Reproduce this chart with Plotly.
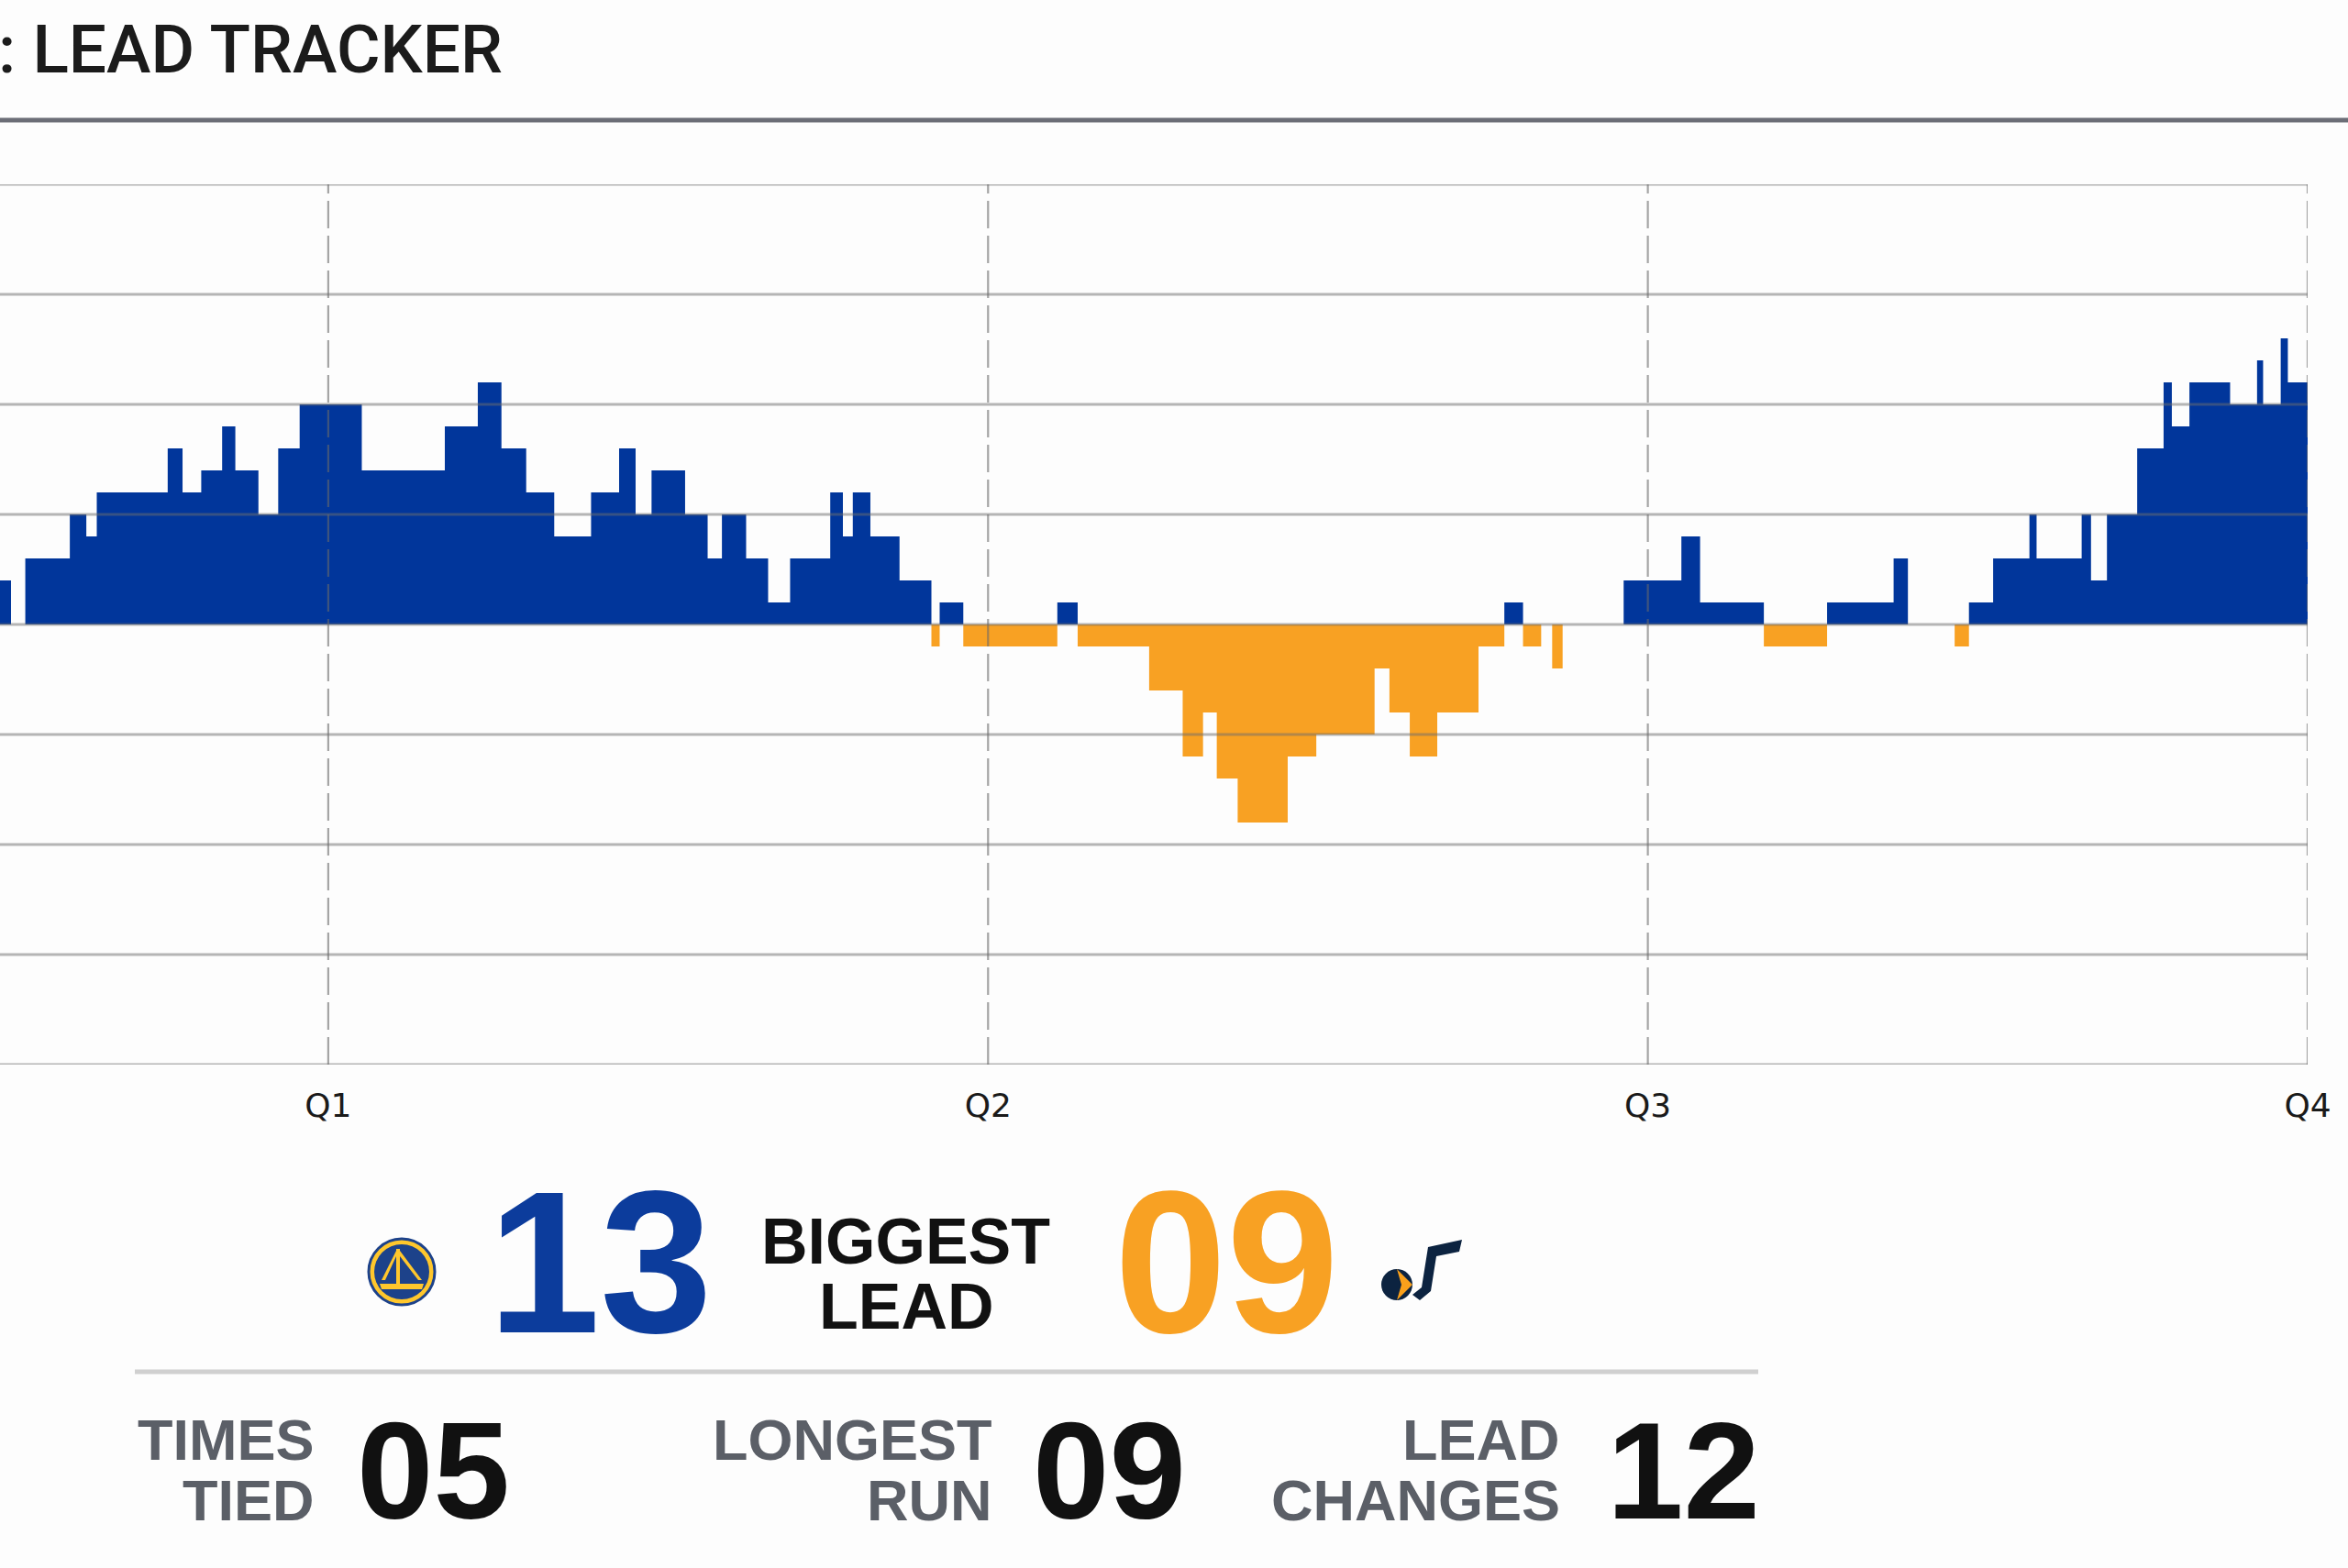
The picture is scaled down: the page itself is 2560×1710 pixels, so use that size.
import plotly.graph_objects as go

# lead of GSW over UTA (positive = GSW ahead), step segments by game minute
SEG_START = [5.80, 6.23, 6.49, 7.30, 7.60, 7.79, 9.08, 9.35, 9.69, 10.07,
             10.31, 10.73, 11.09, 11.48, 12.61, 14.12, 14.72, 15.15, 15.60, 16.11,
             16.78, 17.29, 17.59, 17.88, 18.49, 18.90, 19.16, 19.60, 20.00, 20.40,
             21.13, 21.36, 21.54, 21.86, 22.39, 22.97, 23.12, 23.55, 25.26, 25.63,
             26.93, 27.54, 27.91, 28.16, 28.54, 29.45, 29.97, 31.03, 31.30, 31.67,
             32.17, 32.92, 33.39, 33.73, 34.06, 34.26, 34.45, 35.56, 36.61, 36.95,
             38.11, 39.26, 40.47, 40.73, 41.58, 41.84, 42.28, 42.94, 43.07, 43.89,
             44.06, 44.35, 44.90, 45.38, 45.53, 45.85, 46.59, 47.08, 47.19, 47.51,
             47.64]
LEAD = [2, 0, 3, 5, 4, 6, 8, 6, 7, 9,
        7, 5, 8, 10, 7, 9, 11, 8, 6, 4,
        6, 8, 5, 7, 5, 3, 5, 3, 1, 3,
        6, 4, 6, 4, 2, -1, 1, -1, 1, -1,
        -3, -6, -4, -7, -9, -6, -5, -2, -4, -6,
        -4, -1, 1, -1, 0, -2, 0, 2, 4, 1,
        -1, 1, 3, 0, -1, 1, 3, 5, 3, 5,
        2, 5, 8, 11, 9, 11, 10, 12, 10, 13,
        11]
GAME_END = 48

Q_TICKS = [12, 24, 36, 48]
Q_LABELS = ["Q1", "Q2", "Q3", "Q4"]
Y_GRID = [-20, -15, -10, -5, 0, 5, 10, 15, 20]

TIMES_TIED = 5
LONGEST_RUN = 9
LEAD_CHANGES = 12

BLUE = "#01369b"
ORANGE = "#f8a123"
ARIAL = "Liberation Sans, Arial, sans-serif"

W, H = 2560, 1710
L, R, T, B = 0, 44, 201, 549
PW, PH = W - L - R, H - T - B


def px(x):
    return (x - L) / PW


def py(y):
    return (H - B - y) / PH


xs = SEG_START + [GAME_END]
pos = [max(v, 0) for v in LEAD]
neg = [min(v, 0) for v in LEAD]

fig = go.Figure()
fig.add_trace(go.Scatter(x=xs, y=pos + [pos[-1]], mode="lines", fill="tozeroy",
                         fillcolor=BLUE, line=dict(width=0, shape="hv", color=BLUE),
                         hoverinfo="skip"))
fig.add_trace(go.Scatter(x=xs, y=neg + [neg[-1]], mode="lines", fill="tozeroy",
                         fillcolor=ORANGE, line=dict(width=0, shape="hv", color=ORANGE),
                         hoverinfo="skip"))

# grid drawn above the fills, semi transparent like the original
for v in Y_GRID:
    fig.add_shape(type="line", xref="paper", yref="y", x0=0, x1=1, y0=v, y1=v,
                  line=dict(color="rgba(110,110,110,0.5)", width=3), layer="above")
for q in Q_TICKS:
    fig.add_shape(type="line", xref="x", yref="paper", x0=q, x1=q, y0=0, y1=1,
                  line=dict(color="rgba(105,105,105,0.6)", width=2.2, dash="30px,8px"),
                  layer="above")

# header rule
fig.add_shape(type="line", xref="paper", yref="paper", x0=px(0), x1=px(W),
              y0=py(131), y1=py(131), line=dict(color="#6c6e77", width=5))
# separator under biggest lead
fig.add_shape(type="line", xref="paper", yref="paper", x0=px(147), x1=px(1917),
              y0=py(1496), y1=py(1496), line=dict(color="#d0d0d0", width=5))


def circle(cx, cy, r, fill, line_color=None, lw=0):
    fig.add_shape(type="circle", xref="paper", yref="paper",
                  x0=px(cx - r), x1=px(cx + r), y0=py(cy + r), y1=py(cy - r),
                  fillcolor=fill, line=dict(color=line_color or fill, width=lw))


def path(points, fill):
    d = "M " + " L ".join(f"{px(a):.5f},{py(b):.5f}" for a, b in points) + " Z"
    fig.add_shape(type="path", xref="paper", yref="paper", path=d,
                  fillcolor=fill, line=dict(width=0))


# GSW logo (simplified)
circle(438, 1387, 36, "#ffc72c", "#1d428a", 3)
circle(438, 1387, 30, "#1d428a")
path([(414, 1400), (462, 1400), (460, 1406), (416, 1406)], "#ffc72c")
path([(432, 1362), (436, 1362), (436, 1400), (432, 1400)], "#ffc72c")
path([(436, 1364), (460, 1396), (456, 1396), (436, 1370)], "#ffc72c")
path([(432, 1364), (416, 1396), (420, 1396), (432, 1370)], "#ffc72c")

# UTA logo (simplified note + ball)
circle(1523, 1401, 17, "#0c2340")
path([(1523, 1384), (1540, 1401), (1523, 1418), (1528, 1401)], "#f9a01b")
path([(1540, 1412), (1550, 1404), (1557, 1360), (1594, 1352), (1591, 1365),
      (1566, 1370), (1560, 1408), (1548, 1418)], "#0c2340")


def note(text, x, y, size, color, xanchor="center", family=ARIAL, weight=700):
    fig.add_annotation(text=text, x=px(x), y=py(y), xref="paper", yref="paper",
                       xanchor=xanchor, yanchor="middle", showarrow=False,
                       font=dict(family=family, size=size, color=color, weight=weight))


note(": LEAD TRACKER", -4, 54, 73, "#1b1b1b", xanchor="left",
     family="Roboto, sans-serif", weight=500)

note(f"{max(LEAD):02d}", 654, 1377, 220, "#0c3c9c")
note("BIGGEST", 987, 1354, 70, "#111111")
note("LEAD", 988, 1425, 70, "#111111")
note(f"{-min(LEAD):02d}", 1337, 1377, 220, ORANGE)

GRAY = "#5b5f67"
note("TIMES", 345, 1570, 63, GRAY, xanchor="right")
note("TIED", 345, 1636, 63, GRAY, xanchor="right")
note(f"{TIMES_TIED:02d}", 472, 1604, 150, "#111111")
note("LONGEST", 1084, 1570, 63, GRAY, xanchor="right")
note("RUN", 1084, 1636, 63, GRAY, xanchor="right")
note(f"{LONGEST_RUN:02d}", 1209, 1604, 150, "#111111")
note("LEAD", 1703, 1570, 63, GRAY, xanchor="right")
note("CHANGES", 1703, 1636, 63, GRAY, xanchor="right")
note(f"{LEAD_CHANGES:02d}", 1835, 1604, 150, "#111111")

fig.update_xaxes(range=[6.03, GAME_END], tickvals=Q_TICKS, ticktext=Q_LABELS,
                 showgrid=False, zeroline=False, ticks="", showline=False,
                 ticklabelstandoff=20,
                 tickfont=dict(family="DejaVu Sans", size=36, color="#1a1a1a"))
fig.update_yaxes(range=[-20, 20], showgrid=False, zeroline=False,
                 showticklabels=False, ticks="")

fig.update_layout(width=W, height=H, showlegend=False,
                  margin=dict(l=L, r=R, t=T, b=B, autoexpand=False),
                  paper_bgcolor="#fdfdfd", plot_bgcolor="#fdfdfd")

fig.write_html("out.html", config={"displayModeBar": False},
               post_script="document.body.style.margin='0';")
